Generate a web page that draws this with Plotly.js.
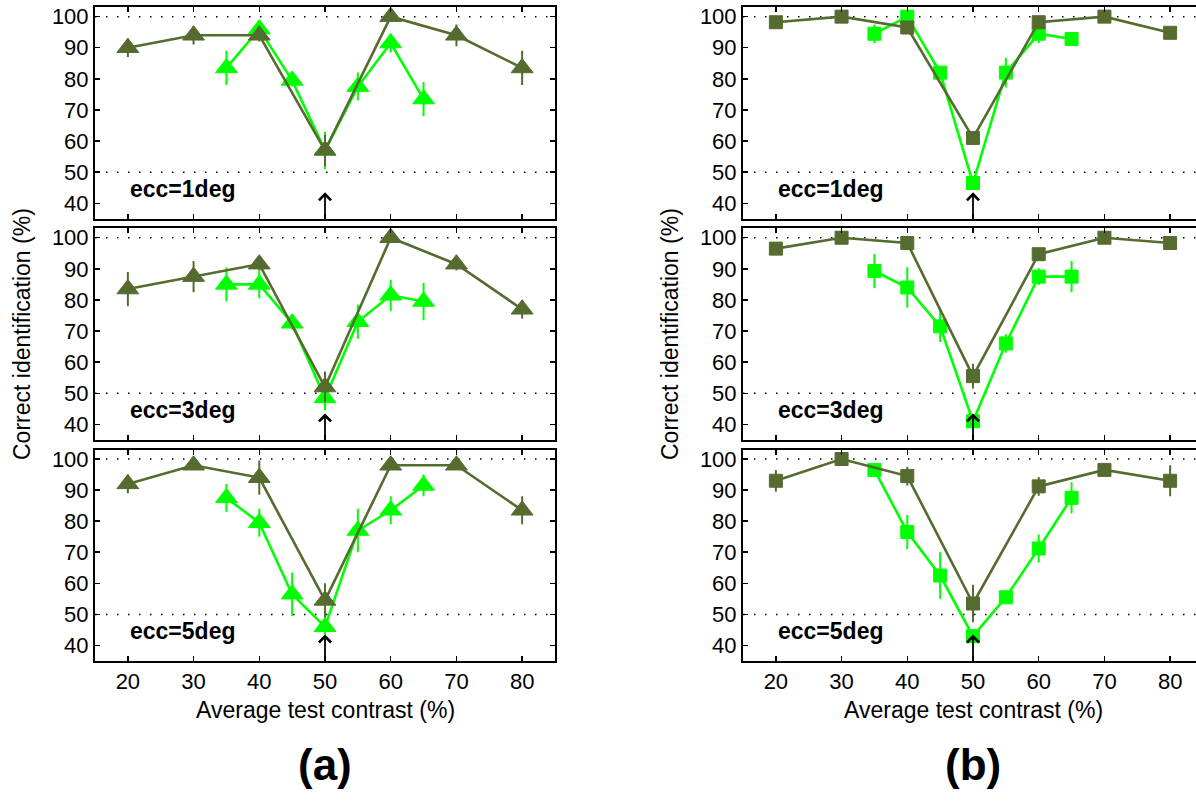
<!DOCTYPE html>
<html>
<head>
<meta charset="utf-8">
<script src="https://cdn.plot.ly/plotly-3.0.1.min.js"></script>
<style>
html,body{margin:0;padding:0;overflow:hidden;background:#fff;}
#chart{width:1210px;height:811px;}
</style>
</head>
<body>
<div id="chart"></div>
<script>
// ---- data ----
const contrastDark = [20, 30, 40, 50, 60, 70, 80];
const contrastGreen = [35, 40, 45, 50, 55, 60, 65];
const xTicks = [20, 30, 40, 50, 60, 70, 80];
const yTicks = [40, 50, 60, 70, 80, 90, 100];
const gridLevels = [50, 100];
const panelLabels = ["ecc=1deg", "ecc=3deg", "ecc=5deg"];
const arrowX = 50;
const arrowTipY = 43.5;

// (a) triangles
const a1Dark = [90, 94, 94, 57, 100, 94, 83.5];
const a1DarkErr = [3, 3, 2, 5, 0.5, 3.5, 5.5];
const a1Green = [83.5, 96, 79.5, 57, 77.5, 91.5, 73.5];
const a1GreenErr = [5.5, 2, 2, 6, 4.5, 3, 5.5];

const a3Dark = [83.5, 87.5, 91.5, 52, 100, 91.5, 77];
const a3DarkErr = [5.5, 5, 2, 5, 0.5, 2, 3];
const a3Green = [85, 85, 72.5, 48.5, 73, 81.5, 79.5];
const a3GreenErr = [5.5, 4.5, 2, 4, 5.5, 5, 6];

const a5Dark = [92, 98, 94, 54.5, 98, 98, 83.5];
const a5DarkErr = [3, 1, 5.5, 5.5, 1, 1, 4.5];
const a5Green = [87.5, 79.5, 56.5, 46, 77, 83.5, 91.5];
const a5GreenErr = [4.5, 4.5, 7, 3, 7, 4.5, 3.5];

// (b) squares
const b1Dark = [98.2, 100, 96.5, 61, 98.2, 100, 94.8];
const b1DarkErr = [1, 1, 2, 2, 1, 1, 1];
const b1Green = [94.5, 100, 82, 46.5, 82, 94.5, 92.8];
const b1GreenErr = [3, 1, 2, 2, 4.8, 3, 1];

const b3Dark = [96.5, 100, 98.3, 55.5, 94.7, 100, 98.3];
const b3DarkErr = [1, 1, 1, 4, 1, 1, 1];
const b3Green = [89.3, 84, 71.5, 41, 66, 87.5, 87.5];
const b3GreenErr = [5.5, 6.5, 5, 2, 3, 2.7, 5];

const b5Dark = [93, 100, 94.5, 53.5, 91.2, 96.5, 93];
const b5DarkErr = [3.5, 1, 3, 6, 3, 1, 5];
const b5Green = [96.5, 76.5, 62.5, 43, 55.5, 71.2, 87.5];
const b5GreenErr = [1.5, 5.5, 7.5, 2, 1, 4.5, 5];

// ---- styling ----
const DARK = "rgb(85,107,47)";
const GREEN = "rgb(0,255,0)";
const FONT = "'Liberation Sans', Arial, Helvetica, sans-serif";
const W = 1210, H = 811;

const panels = [
  {dark: a1Dark, darkErr: a1DarkErr, green: a1Green, greenErr: a1GreenErr, col: 0, row: 0, sym: "triangle-up"},
  {dark: a3Dark, darkErr: a3DarkErr, green: a3Green, greenErr: a3GreenErr, col: 0, row: 1, sym: "triangle-up"},
  {dark: a5Dark, darkErr: a5DarkErr, green: a5Green, greenErr: a5GreenErr, col: 0, row: 2, sym: "triangle-up"},
  {dark: b1Dark, darkErr: b1DarkErr, green: b1Green, greenErr: b1GreenErr, col: 1, row: 0, sym: "square"},
  {dark: b3Dark, darkErr: b3DarkErr, green: b3Green, greenErr: b3GreenErr, col: 1, row: 1, sym: "square"},
  {dark: b5Dark, darkErr: b5DarkErr, green: b5Green, greenErr: b5GreenErr, col: 1, row: 2, sym: "square"}
];

// pixel layout
const colPx = [[95, 555], [743, 1203]];
const rowPx = [[7.3, 218.8], [228.4, 439.9], [449.7, 661]];

const data = [];
const layout = {
  width: W, height: H,
  margin: {l: 0, r: 0, t: 0, b: 0, autoexpand: false},
  paper_bgcolor: "#fff", plot_bgcolor: "#fff",
  showlegend: false,
  font: {family: FONT, size: 22, color: "#000"},
  shapes: [], annotations: []
};

panels.forEach((p, i) => {
  const n = i + 1;
  const xa = n === 1 ? "x" : "x" + n;
  const ya = n === 1 ? "y" : "y" + n;
  const mSize = p.sym === "square" ? 13 : 19;
  data.push({
    x: contrastGreen, y: p.green, xaxis: xa, yaxis: ya, type: "scatter", mode: "lines+markers",
    line: {color: GREEN, width: 2.6},
    marker: {symbol: p.sym, size: mSize, color: GREEN, line: {color: GREEN, width: 1}},
    error_y: {type: "data", array: p.greenErr, visible: true, color: GREEN, thickness: 2, width: 0},
    cliponaxis: false
  });
  data.push({
    x: contrastDark, y: p.dark, xaxis: xa, yaxis: ya, type: "scatter", mode: "lines+markers",
    line: {color: DARK, width: 2.6},
    marker: {symbol: p.sym, size: mSize, color: DARK, line: {color: DARK, width: 1}},
    error_y: {type: "data", array: p.darkErr, visible: true, color: DARK, thickness: 2, width: 0},
    cliponaxis: false
  });
  const cx = colPx[p.col], ry = rowPx[p.row];
  const axKey = n === 1 ? "xaxis" : "xaxis" + n;
  const ayKey = n === 1 ? "yaxis" : "yaxis" + n;
  layout[axKey] = {
    domain: [cx[0] / W, cx[1] / W], anchor: ya, range: [15, 85],
    tickmode: "array", tickvals: xTicks, ticktext: xTicks.map(String),
    showticklabels: p.row === 2, ticks: "inside", ticklen: 5, tickwidth: 1.5, tickcolor: "#000",
    showline: true, linecolor: "#000", linewidth: 2, mirror: "ticks",
    showgrid: false, zeroline: false, fixedrange: true,
    tickfont: {family: FONT, size: 22, color: "#000"}
  };
  layout[ayKey] = {
    domain: [1 - ry[1] / H, 1 - ry[0] / H], anchor: xa, range: [35, 103],
    tickmode: "array", tickvals: yTicks, ticktext: yTicks.map(String),
    ticks: "inside", ticklen: 5, tickwidth: 1.5, tickcolor: "#000",
    showline: true, linecolor: "#000", linewidth: 2, mirror: "ticks",
    showgrid: false, zeroline: false, fixedrange: true,
    tickfont: {family: FONT, size: 22, color: "#000"}
  };
  gridLevels.forEach(g => {
    layout.shapes.push({
      type: "line", xref: xa + " domain", yref: ya, x0: 0, x1: 1, y0: g, y1: g,
      line: {color: "#000", width: 1.5, dash: "1.5px,9.5px"}, layer: "below"
    });
  });
  layout.annotations.push({
    xref: xa, yref: ya, x: 20, y: 44.5, xanchor: "left", yanchor: "middle",
    text: "<b>" + panelLabels[p.row] + "</b>", showarrow: false,
    font: {family: FONT, size: 23, color: "#000"}
  });
  layout.annotations.push({
    xref: xa, yref: ya, x: arrowX, y: arrowTipY, axref: xa, ayref: ya, ax: arrowX, ay: 35,
    text: "", showarrow: true, arrowhead: 4, arrowsize: 1.3, arrowwidth: 1.8, arrowcolor: "#000", standoff: 0
  });
});

// axis titles and panel letters
[0, 1].forEach(c => {
  const cx = colPx[c];
  const midX = (cx[0] + cx[1]) / 2 / W;
  layout.annotations.push({
    xref: "paper", yref: "paper", x: midX, y: 1 - 710 / H, xanchor: "center", yanchor: "middle",
    text: "Average test contrast (%)", showarrow: false,
    font: {family: FONT, size: 23, color: "#000"}
  });
  layout.annotations.push({
    xref: "paper", yref: "paper", x: (cx[0] - 73) / W, y: 1 - 334 / H, xanchor: "center", yanchor: "middle",
    text: "Correct identification (%)", textangle: -90, showarrow: false,
    font: {family: FONT, size: 23, color: "#000"}
  });
  layout.annotations.push({
    xref: "paper", yref: "paper", x: midX, y: 1 - 764 / H, xanchor: "center", yanchor: "middle",
    text: "<b>" + (c === 0 ? "(a)" : "(b)") + "</b>", showarrow: false,
    font: {family: FONT, size: 44, color: "#000"}
  });
});

Plotly.newPlot("chart", data, layout, {displayModeBar: false, staticPlot: true});
</script>
</body>
</html>
